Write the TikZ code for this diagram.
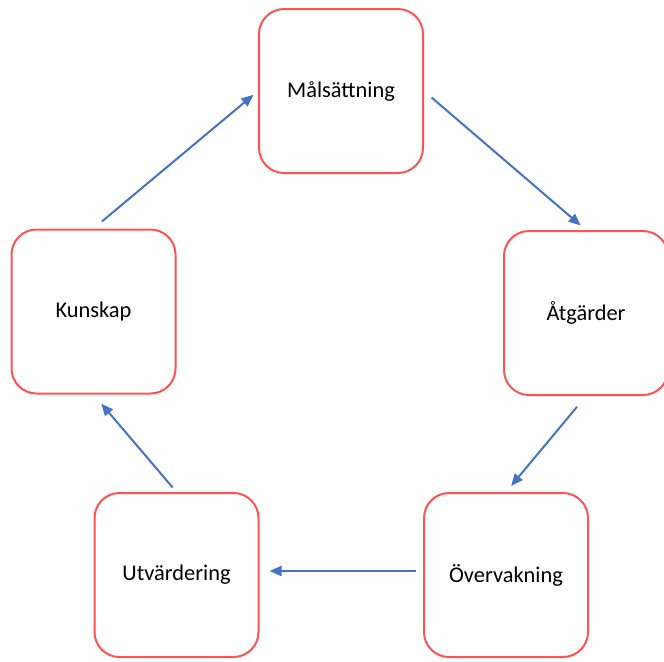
\documentclass[tikz,border=0pt]{standalone}
\usepackage{fontspec}
\setmainfont{Carlito}
\usepackage{xcolor}
\usetikzlibrary{arrows.meta}
\definecolor{rosso}{RGB}{255,82,82}
\definecolor{blu}{RGB}{68,114,196}

\begin{document}
\begin{tikzpicture}[
			x=0.5pt, y=-0.5pt,
			fase/.style={
					rectangle, draw=rosso, line width=1pt,
					rounded corners=12.5pt,
					minimum width=82pt, minimum height=82pt,
					align=center,
					font=\fontsize{11.2}{13}\selectfont % testo delle fasi
				},
			freccia/.style={
					draw=blu, line width=1pt,
					-{Triangle[length=6pt,width=5pt]}
				}
		]
		\useasboundingbox (0,0) rectangle (664,661);
		\node[fase] (mal) at (341,91) {Målsättning};
		\node[fase] (atg) at (586,313) {Åtgärder};
		\node[fase] (overv) at (506,575) {Övervakning};
		\node[fase] (utv) at (176.5,575) {Utvärdering};
		\node[fase] (kun) at (93.5,311.5) {Kunskap};
		\draw[freccia, shorten <=5pt, shorten >=3.5pt] (mal.east) -- (atg.north);
		\draw[freccia, shorten <=7pt, shorten >=4pt] (atg.south) -- (overv.north);
		\draw[freccia, shorten <=3.5pt, shorten >=5pt] ([yshift=2pt]overv.west) -- ([yshift=2pt]utv.east);
		\draw[freccia, shorten <=3pt, shorten >=6pt] (utv.north) -- (kun.south);
		\draw[freccia, shorten <=5.5pt, shorten >=3pt] (kun.north) -- (mal.west);
	\end{tikzpicture}
\end{document}
